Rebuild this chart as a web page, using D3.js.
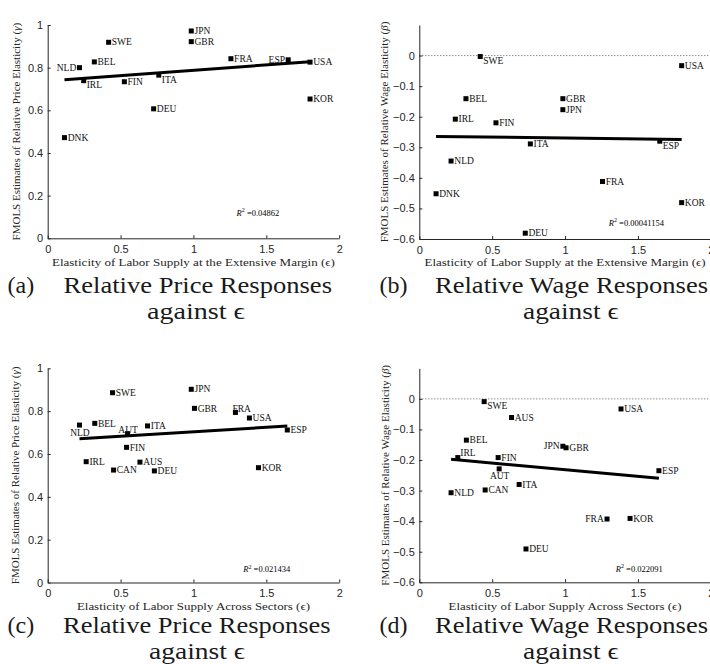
<!DOCTYPE html>
<html>
<head>
<meta charset="utf-8">
<script src="https://cdn.jsdelivr.net/npm/d3@7"></script>
<style>
  body { margin: 0; background: #fff; }
  svg { display: block; }
  .axis path, .axis line { stroke: #262626; stroke-width: 1; }
</style>
</head>
<body>
<svg id="chart" width="710" height="664"></svg>
<script>
// Extensive margin panels (a), (b)
const extCountries = ['JPN', 'GBR', 'SWE', 'BEL', 'NLD', 'IRL', 'FIN', 'ITA', 'DEU', 'DNK', 'FRA', 'ESP', 'USA', 'KOR'];
const extEps = [0.985, 0.985, 0.418, 0.32, 0.218, 0.247, 0.526, 0.762, 0.727, 0.115, 1.257, 1.65, 1.80, 1.80];
const extPrice = [0.972, 0.922, 0.919, 0.827, 0.80, 0.739, 0.734, 0.765, 0.607, 0.472, 0.842, 0.837, 0.826, 0.653];
const extWage = [-0.177, -0.141, -0.003, -0.141, -0.345, -0.208, -0.220, -0.289, -0.581, -0.452, -0.412, -0.280, -0.033, -0.481];

// Across sectors panels (c), (d)
const secCountries = ['SWE', 'JPN', 'GBR', 'FRA', 'USA', 'ESP', 'ITA', 'BEL', 'NLD', 'AUT', 'FIN', 'IRL', 'AUS', 'CAN', 'DEU', 'KOR'];
const secEps = [0.445, 0.985, 1.007, 1.288, 1.384, 1.644, 0.685, 0.323, 0.218, 0.548, 0.541, 0.264, 0.633, 0.452, 0.732, 1.446];
const secPrice = [0.886, 0.902, 0.813, 0.794, 0.768, 0.712, 0.731, 0.743, 0.735, 0.695, 0.631, 0.564, 0.562, 0.525, 0.521, 0.536];
const secWage = [-0.009, -0.155, -0.160, -0.393, -0.033, -0.235, -0.280, -0.135, -0.307, -0.229, -0.192, -0.192, -0.061, -0.298, -0.491, -0.391];

const xTicks = [0, 0.5, 1, 1.5, 2];
const priceTicks = [0, 0.2, 0.4, 0.6, 0.8, 1];
const wageTicks = [-0.6, -0.5, -0.4, -0.3, -0.2, -0.1, 0];
const rSquared = ['0.04862', '0.00041154', '0.021434', '0.022091'];

const xTitleExt = 'Elasticity of Labor Supply at the Extensive Margin (\u03f5)';
const xTitleSec = 'Elasticity of Labor Supply Across Sectors (\u03f5)';
const yTitlePrice = ['FMOLS Estimates of Relative Price Elasticity (', '\u03b3', ')'];
const yTitleWage = ['FMOLS Estimates of Relative Wage Elasticity (', '\u03b2', ')'];
const captionLetters = ['(a)', '(b)', '(c)', '(d)'];
const captionTitles = ['Relative Price Responses', 'Relative Wage Responses', 'Relative Price Responses', 'Relative Wage Responses'];
const captionSub = 'against \u03f5';

const SERIF = '"Liberation Serif", "Times New Roman", "DejaVu Serif", serif';
const SANS = '"Liberation Sans", Arial, Helvetica, sans-serif';

// label placement relative to marker
const spots = {
  e: { dx: 3.2, dy: 3.2, anchor: 'start' },
  w: { dx: -3.2, dy: 3.2, anchor: 'end' },
  se: { dx: 3, dy: 7.5, anchor: 'start' },
  s: { dx: 0.5, dy: 10.5, anchor: 'middle' },
  n: { dx: 0.5, dy: -1, anchor: 'middle' },
  ne: { dx: 2.5, dy: -1.5, anchor: 'start' },
  nr: { dx: -3, dy: -0.8, anchor: 'start' }
};

const panels = [
  {
    left: 47.7, top: 25, bottom: 238.3, names: extCountries, xs: extEps, ys: extPrice,
    yDomain: [0, 1], yTicks: priceTicks, zeroLine: false,
    xTitle: xTitleExt, xTitleLen: 283, yTitle: yTitlePrice, yTitleX: 19.5,
    r2: rSquared[0], r2At: [1.296, 0.105],
    place: { NLD: 'w', ESP: 'w', IRL: 'se', ITA: 'se' },
    cap: { x: 7.5, x1: 63.5, len1: 268.5, x2: 147, len2: 98, y1: 293, y2: 319 }
  },
  {
    left: 419.3, top: 25, bottom: 239, names: extCountries, xs: extEps, ys: extWage,
    yDomain: [-0.6, 0.1], yTicks: wageTicks, zeroLine: true,
    xTitle: xTitleExt, xTitleLen: 281, yTitle: yTitleWage, yTitleX: 388,
    r2: rSquared[1], r2At: [1.30, -0.557],
    place: { SWE: 'se', ESP: 'se' },
    cap: { x: 379.5, x1: 435, len1: 273, x2: 523, len2: 95.5, y1: 293, y2: 319 }
  },
  {
    left: 47.7, top: 368.3, bottom: 582.5, names: secCountries, xs: secEps, ys: secPrice,
    yDomain: [0, 1], yTicks: priceTicks, zeroLine: false,
    xTitle: xTitleSec, xTitleLen: 233, yTitle: yTitlePrice, yTitleX: 19,
    r2: rSquared[2], r2At: [1.342, 0.049],
    place: { NLD: 's', AUT: 'n', FRA: 'nr' },
    cap: { x: 7.5, x1: 63, len1: 267.5, x2: 149, len2: 96, y1: 633, y2: 658.5 }
  },
  {
    left: 419.3, top: 368.3, bottom: 582.3, names: secCountries, xs: secEps, ys: secWage,
    yDomain: [-0.6, 0.1], yTicks: wageTicks, zeroLine: true,
    xTitle: xTitleSec, xTitleLen: 233, yTitle: yTitleWage, yTitleX: 388.5,
    r2: rSquared[3], r2At: [1.348, -0.565],
    place: { SWE: 'se', JPN: 'w', AUT: 's', IRL: 'ne', FRA: 'w' },
    cap: { x: 379.5, x1: 435, len1: 273, x2: 523, len2: 95.5, y1: 633, y2: 658.5 }
  }
];

const plotWidth = 291.5;
const svg = d3.select('#chart').attr('font-family', SERIF);

// least squares line over the range of the data
function fitLine(xs, ys) {
  const mx = d3.mean(xs);
  const my = d3.mean(ys);
  const sxy = d3.sum(xs, (x, i) => (x - mx) * (ys[i] - my));
  const sxx = d3.sum(xs, x => (x - mx) * (x - mx));
  const slope = sxy / sxx;
  const icpt = my - slope * mx;
  return d3.extent(xs).map(x => [x, icpt + slope * x]);
}

function styleAxis(sel) {
  sel.attr('font-family', SANS).attr('font-size', 11);
  sel.selectAll('text').attr('fill', '#262626');
}

function drawPanel(p) {
  const x = d3.scaleLinear().domain([0, 2]).range([p.left, p.left + plotWidth]);
  const y = d3.scaleLinear().domain(p.yDomain).range([p.bottom, p.top]);
  const g = svg.append('g');

  if (p.zeroLine) {
    g.append('line')
      .attr('x1', x(0)).attr('x2', x(2))
      .attr('y1', y(0)).attr('y2', y(0))
      .attr('stroke', '#333')
      .attr('stroke-width', 0.8)
      .attr('stroke-dasharray', '1,2');
  }

  g.append('g')
    .attr('class', 'axis')
    .attr('transform', `translate(0,${p.bottom})`)
    .call(d3.axisBottom(x).tickValues(xTicks).tickFormat(d3.format('~g'))
      .tickSizeInner(-3).tickSizeOuter(0).tickPadding(7))
    .call(styleAxis);

  g.append('g')
    .attr('class', 'axis')
    .attr('transform', `translate(${p.left},0)`)
    .call(d3.axisLeft(y).tickValues(p.yTicks).tickFormat(d3.format('~g'))
      .tickSizeInner(-3).tickSizeOuter(0).tickPadding(4.5))
    .call(styleAxis);

  // fitted line
  g.append('path')
    .datum(fitLine(p.xs, p.ys))
    .attr('fill', 'none')
    .attr('stroke', '#000')
    .attr('stroke-width', 3)
    .attr('d', d3.line().x(d => x(d[0])).y(d => y(d[1])));

  const pts = p.names.map((name, i) => ({ name, vx: p.xs[i], vy: p.ys[i] }));
  const spot = d => spots[p.place[d.name] || 'e'];

  g.selectAll('rect.mark')
    .data(pts)
    .enter()
    .append('rect')
      .attr('class', 'mark')
      .attr('x', d => x(d.vx) - 2.5)
      .attr('y', d => y(d.vy) - 2.5)
      .attr('width', 5)
      .attr('height', 5)
      .attr('fill', '#000');

  g.selectAll('text.lab')
    .data(pts)
    .enter()
    .append('text')
      .attr('class', 'lab')
      .attr('font-family', SERIF)
      .attr('x', d => x(d.vx) + spot(d).dx)
      .attr('y', d => y(d.vy) + spot(d).dy)
      .attr('text-anchor', d => spot(d).anchor)
      .attr('font-size', 9.5)
      .attr('fill', '#111')
      .text(d => d.name);

  // R squared note
  const r2 = g.append('text')
    .attr('font-family', SERIF)
    .attr('x', x(p.r2At[0]))
    .attr('y', y(p.r2At[1]))
    .attr('font-size', 8.5);
  r2.append('tspan').attr('font-style', 'italic').text('R');
  r2.append('tspan').attr('font-size', 6).attr('dy', -3.5).text('2');
  r2.append('tspan').attr('dy', 3.5).text(' =' + p.r2);

  // axis titles
  g.append('text')
    .attr('font-family', SERIF)
    .attr('x', p.left + plotWidth / 2)
    .attr('y', p.bottom + 27.2)
    .attr('text-anchor', 'middle')
    .attr('font-size', 11)
    .attr('fill', '#262626')
    .attr('textLength', p.xTitleLen)
    .attr('lengthAdjust', 'spacingAndGlyphs')
    .text(p.xTitle);

  const yt = g.append('text')
    .attr('font-family', SERIF)
    .attr('transform', `translate(${p.yTitleX},${(p.top + p.bottom) / 2}) rotate(-90)`)
    .attr('text-anchor', 'middle')
    .attr('font-size', 11)
    .attr('fill', '#262626');
  yt.append('tspan').text(p.yTitle[0]);
  yt.append('tspan').attr('font-style', 'italic').text(p.yTitle[1]);
  yt.append('tspan').text(p.yTitle[2]);
}

function drawCaption(p, i) {
  const c = p.cap;
  const g = svg.append('g')
    .attr('font-family', SERIF)
    .attr('fill', '#1a1a1a')
    .attr('font-size', 24);
  g.append('text').attr('x', c.x).attr('y', c.y1).text(captionLetters[i]);
  g.append('text')
    .attr('x', c.x1).attr('y', c.y1)
    .attr('textLength', c.len1).attr('lengthAdjust', 'spacingAndGlyphs')
    .text(captionTitles[i]);
  g.append('text')
    .attr('x', c.x2).attr('y', c.y2)
    .attr('textLength', c.len2).attr('lengthAdjust', 'spacingAndGlyphs')
    .text(captionSub);
}

panels.forEach((p, i) => {
  drawPanel(p);
  drawCaption(p, i);
});
</script>
</body>
</html>
